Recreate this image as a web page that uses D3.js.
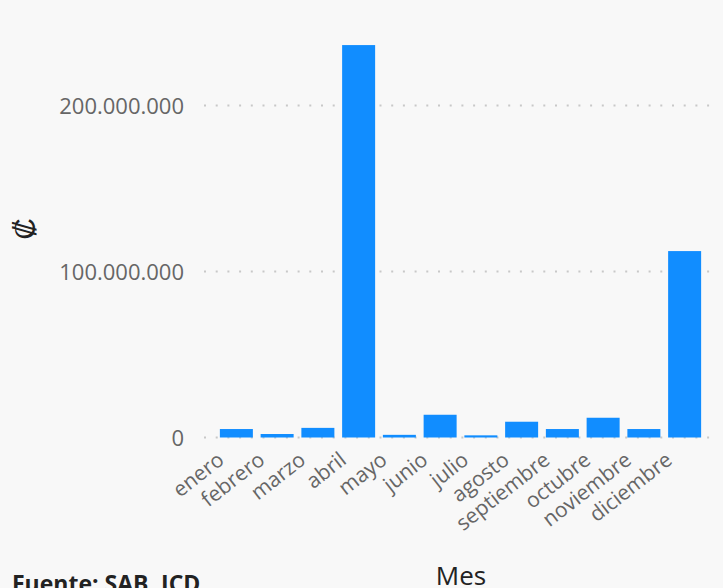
<!DOCTYPE html>
<html>
<head>
<meta charset="utf-8">
<script src="https://cdn.jsdelivr.net/npm/d3@7"></script>
<style>
  body { margin: 0; background: #f8f8f8; }
  svg { display: block; font-family: "Open Sans", sans-serif; }
</style>
</head>
<body>
<svg width="723" height="588"></svg>
<script>
// Data
var months = ['enero', 'febrero', 'marzo', 'abril', 'mayo', 'junio', 'julio',
  'agosto', 'septiembre', 'octubre', 'noviembre', 'diciembre'];
var amounts = [5100000, 2100000, 5800000, 236400000, 1600000, 13700000, 1300000,
  9500000, 5100000, 11900000, 5100000, 112300000];
var yTicks = [0, 100000000, 200000000];

var svg = d3.select('svg');

// Scales
var x = d3.scaleBand().domain(months).range([216, 705]).paddingInner(0.19).paddingOuter(0.095);
var y = d3.scaleLinear().domain([0, 250000000]).range([437.5, 22.5]);

var fmt = function(d) { return d3.format(',')(d).replace(/,/g, '.'); };

// Gridlines
svg.append('g').selectAll('line')
  .data(yTicks).enter()
  .append('line')
  .attr('x1', 204).attr('x2', 710)
  .attr('y1', d => y(d)).attr('y2', d => y(d))
  .attr('stroke', '#c8c8c8')
  .attr('stroke-width', 2)
  .attr('stroke-dasharray', '2,9.7');

// Y axis
var yAxis = d3.axisLeft(y).tickValues(yTicks).tickFormat(fmt).tickSize(0).tickPadding(0);
svg.append('g')
  .attr('transform', 'translate(184,1)')
  .call(yAxis)
  .call(g => g.select('.domain').remove())
  .selectAll('text')
  .attr('fill', '#666')
  .style('font-size', '22px')
  .style('font-family', '"Open Sans", sans-serif');

// Bars
svg.append('g').selectAll('rect')
  .data(amounts).enter()
  .append('rect')
  .attr('x', (d, i) => x(months[i]))
  .attr('width', x.bandwidth())
  .attr('y', d => y(d))
  .attr('height', d => y(0) - y(d))
  .attr('fill', '#118DFF');

// X axis
var xAxis = d3.axisBottom(x).tickSize(0).tickPadding(0);
svg.append('g')
  .attr('transform', 'translate(0,' + y(0) + ')')
  .call(xAxis)
  .call(g => g.select('.domain').remove())
  .selectAll('text')
  .attr('fill', '#666')
  .style('font-size', '21px')
  .style('font-family', '"Open Sans", sans-serif')
  .attr('text-anchor', 'end')
  .attr('dy', '0')
  .attr('transform', 'translate(-11,25) rotate(-38)');

// Axis titles
svg.append('text')
  .attr('transform', 'translate(27,229) rotate(-90)')
  .attr('text-anchor', 'middle')
  .attr('dominant-baseline', 'middle')
  .style('font-size', '30px')
  .attr('fill', '#222')
  .text('₡');

svg.append('text')
  .attr('x', 461).attr('y', 585)
  .attr('text-anchor', 'middle')
  .style('font-size', '26px')
  .attr('fill', '#222')
  .text('Mes');

svg.append('text')
  .attr('x', 12).attr('y', 592)
  .style('font-size', '23px')
  .style('font-weight', 'bold')
  .attr('fill', '#222')
  .text('Fuente: SAB, ICD');
</script>
</body>
</html>
